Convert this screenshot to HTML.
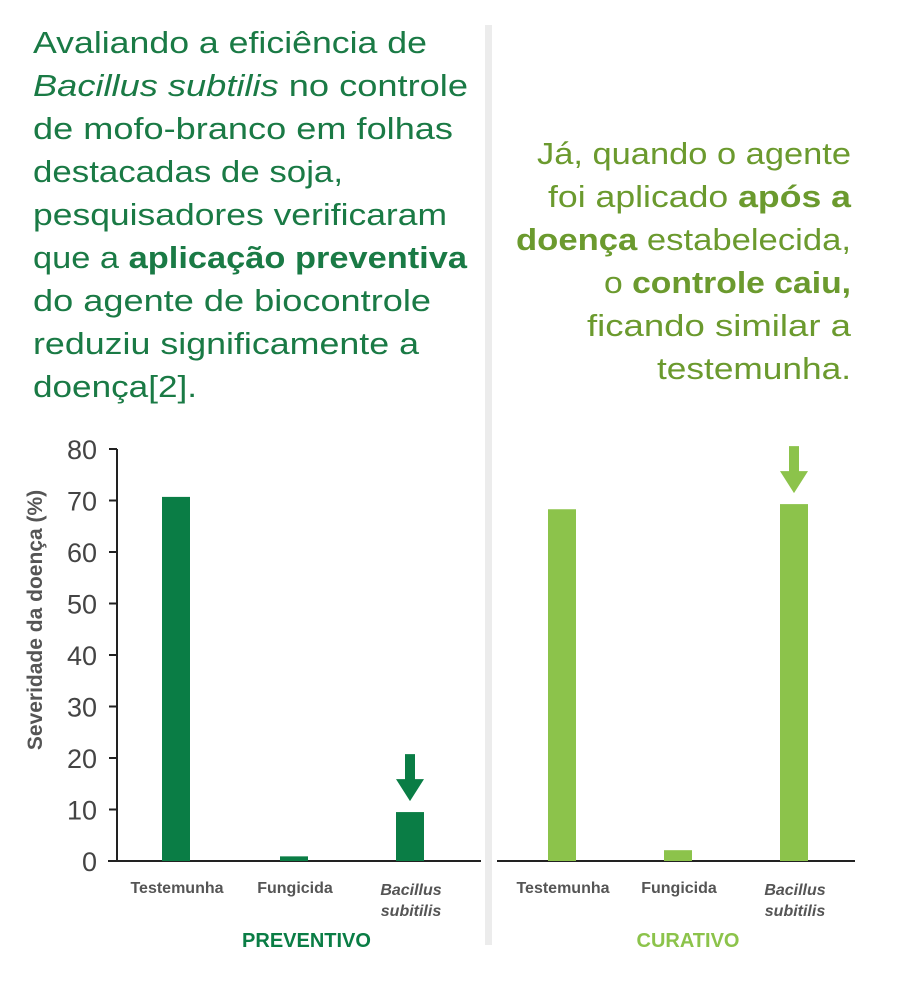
<!DOCTYPE html>
<html><head><meta charset="utf-8"><style>
body{margin:0;background:#fff;width:900px;height:1000px;overflow:hidden;font-family:"Liberation Sans",sans-serif}
svg{display:block}
</style></head><body>
<svg width="900" height="1000" xmlns="http://www.w3.org/2000/svg">
<rect x="485" y="25" width="7" height="920" fill="#ececec"/>
<g font-size="31" fill="#1a7a45" lengthAdjust="spacingAndGlyphs">
<text x="33" y="53" textLength="394" lengthAdjust="spacingAndGlyphs">Avaliando a eficiência de</text>
<text x="33" y="96" textLength="435" lengthAdjust="spacingAndGlyphs"><tspan font-style="italic">Bacillus subtilis</tspan> no controle</text>
<text x="33" y="139" textLength="420" lengthAdjust="spacingAndGlyphs">de mofo-branco em folhas</text>
<text x="33" y="182" textLength="310" lengthAdjust="spacingAndGlyphs">destacadas de soja,</text>
<text x="33" y="225" textLength="414" lengthAdjust="spacingAndGlyphs">pesquisadores verificaram</text>
<text x="33" y="268" textLength="434" lengthAdjust="spacingAndGlyphs">que a <tspan font-weight="bold">aplicação preventiva</tspan></text>
<text x="33" y="311" textLength="398" lengthAdjust="spacingAndGlyphs">do agente de biocontrole</text>
<text x="33" y="354" textLength="386" lengthAdjust="spacingAndGlyphs">reduziu significamente a</text>
<text x="33" y="397" textLength="164" lengthAdjust="spacingAndGlyphs">doença[2].</text>
</g>
<g font-size="31" fill="#6b9a2e" text-anchor="end">
<text x="851" y="164" textLength="314" lengthAdjust="spacingAndGlyphs">Já, quando o agente</text>
<text x="851" y="207" textLength="303" lengthAdjust="spacingAndGlyphs">foi aplicado <tspan font-weight="bold">após a</tspan></text>
<text x="851" y="250" textLength="335" lengthAdjust="spacingAndGlyphs"><tspan font-weight="bold">doença</tspan> estabelecida,</text>
<text x="851" y="293" textLength="247" lengthAdjust="spacingAndGlyphs">o <tspan font-weight="bold">controle caiu,</tspan></text>
<text x="851" y="336" textLength="264" lengthAdjust="spacingAndGlyphs">ficando similar a</text>
<text x="851" y="379" textLength="194" lengthAdjust="spacingAndGlyphs">testemunha.</text>
</g>
<g id="chart"></g>
</svg>
<script>
const categories=["Testemunha","Fungicida","Bacillus subitilis"];
const preventivo=[70.7,0.9,9.5];
const curativo=[68.3,2.1,69.3];
const yTicks=[0,10,20,30,40,50,60,70,80];
const NS="http://www.w3.org/2000/svg";
const g=document.getElementById("chart");
function y(v){return 861-v*(861-449)/80;}
function mk(tag,attrs,txt){const e=document.createElementNS(NS,tag);for(const k in attrs)e.setAttribute(k,attrs[k]);if(txt!=null)e.textContent=txt;g.appendChild(e);return e;}
let ax=mk("line",{x1:117,y1:449,x2:117,y2:861,stroke:"#222","stroke-width":2});


yTicks.forEach(t=>{
 let l=mk("line",{x1:109,y1:y(t),x2:117,y2:y(t),stroke:"#222","stroke-width":2});
 
 
 let tx=mk("text",{x:97,y:y(t)+10,"text-anchor":"end","font-size":27,fill:"#444"},t);
 
 
});
let yt=mk("text",{transform:"translate(42,620) rotate(-90)","text-anchor":"middle","font-size":21,"font-weight":"bold",fill:"#555"},"Severidade da doença (%)");


function panel(vals,x0,x1,centers,color,title,arrowIdx){
 let b=mk("line",{x1:x0,y1:861,x2:x1,y2:861,stroke:"#222","stroke-width":2});
 
 
 vals.forEach((v,i)=>{
  let r=mk("rect",{x:centers[i]-14,y:y(v),width:28,height:861-y(v),fill:color});
  
  
  const c=categories[i];
  if(i===2){
   let t1=mk("text",{x:centers[i]+1,y:895,"text-anchor":"middle","font-size":16,"font-weight":"bold","font-style":"italic",fill:"#555"},"Bacillus");
   
   
   let t2=mk("text",{x:centers[i]+1,y:916,"text-anchor":"middle","font-size":16,"font-weight":"bold","font-style":"italic",fill:"#555"},"subitilis");
   
   
  }else{
   let t=mk("text",{x:centers[i]+1,y:893,"text-anchor":"middle","font-size":16,"font-weight":"bold",fill:"#555"},c);
   
   
  }
 });
 const cx=centers[arrowIdx],top=y(vals[arrowIdx]);
 let a=mk("path",{d:`M${cx-5},${top-58} h10 v25 h9 l-14,22 l-14,-22 h9 z`,fill:color});
 
 
 let tt=mk("text",{x:(x0+x1)/2+12,y:947,"text-anchor":"middle","font-size":20,"font-weight":"bold",fill:color},title);
 
 
}
panel(preventivo,108,481,[176,294,410],"#0a7d45","PREVENTIVO",2);
panel(curativo,497,855,[562,678,794],"#8cc34b","CURATIVO",2);
</script>
</body></html>
